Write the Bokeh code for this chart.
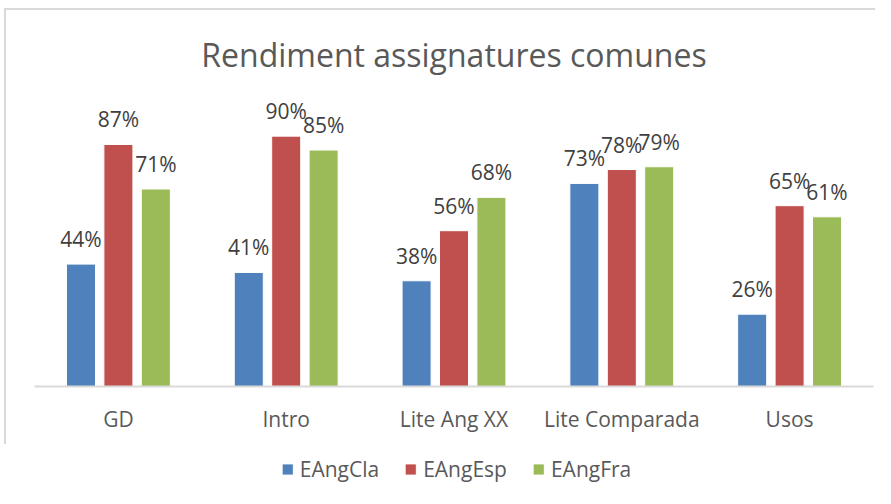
from bokeh.plotting import figure
from bokeh.layouts import column
from bokeh.models import ColumnDataSource, FactorRange, LabelSet, Legend, LegendItem, Range1d
from bokeh.transform import dodge
from bokeh.embed import file_html
from bokeh.resources import INLINE
from bokeh.core.properties import value

title = "Rendiment assignatures comunes"
categories = ["GD", "Intro", "Lite Ang XX", "Lite Comparada", "Usos"]
series = ["EAngCla", "EAngEsp", "EAngFra"]
eangcla = [0.44, 0.41, 0.38, 0.73, 0.26]
eangesp = [0.87, 0.90, 0.56, 0.78, 0.65]
eangfra = [0.71, 0.85, 0.68, 0.79, 0.61]
colors = ["#4F81BD", "#C0504D", "#9BBB59"]

FONT = "Open Sans"
TXT = "#595959"

data = {"cat": categories}
for name, vals in zip(series, [eangcla, eangesp, eangfra]):
    data[name] = vals
    data[name + "_lbl"] = [f"{round(v * 100)}%" for v in vals]
src = ColumnDataSource(data)

p = figure(x_range=FactorRange(*categories), y_range=Range1d(0, 1.1),
           frame_width=837, frame_height=304, output_backend="svg", toolbar_location=None,
           min_border_left=21, min_border_right=11, min_border_top=70,
           min_border_bottom=60)
p.styles = {"margin-left": "4px", "margin-top": "8px",
            "border-left": "2px solid #D9D9D9", "border-top": "2px solid #D9D9D9"}

bar_w = 0.173
step = 0.223
offsets = [-step, 0, step]
for name, col, off in zip(series, colors, offsets):
    p.vbar(x=dodge("cat", off, range=p.x_range), top=name, width=bar_w,
           source=src, fill_color=col, line_color="white", line_width=1)
    lbl = LabelSet(x=dodge("cat", off, range=p.x_range), y=name, text=name + "_lbl",
                   source=src, text_align="center", text_baseline="alphabetic",
                   y_offset=17, text_font=value(FONT), text_font_size="21px",
                   text_color="#404040")
    p.add_layout(lbl)

p.title.text = title
p.title.align = "center"
p.title.text_font = FONT
p.title.text_font_size = "32px"
p.title.text_font_style = "normal"
p.title.text_color = TXT
p.title.standoff = 10

p.yaxis.visible = False
p.xgrid.grid_line_color = None
p.ygrid.grid_line_color = None
p.outline_line_color = None
p.xaxis.axis_line_color = "#D9D9D9"
p.xaxis.axis_line_width = 2
p.xaxis.major_tick_line_color = None
p.xaxis.minor_tick_line_color = None
p.xaxis.major_tick_out = 0
p.xaxis.major_label_standoff = 18
p.xaxis.major_label_text_font = FONT
p.xaxis.major_label_text_font_size = "21px"
p.xaxis.major_label_text_color = TXT

# legend strip below the chart (its bars fall outside its visible y range)
p2 = figure(x_range=FactorRange(*categories), y_range=Range1d(2, 3),
            frame_width=843, frame_height=50, output_backend="svg",
            toolbar_location=None, x_axis_location=None, y_axis_location=None,
            min_border_left=28, min_border_right=0, min_border_top=0,
            min_border_bottom=0)
p2.xgrid.grid_line_color = None
p2.ygrid.grid_line_color = None
p2.outline_line_color = None
p2.styles = {"margin-left": "6px"}
items = []
for name, col, off in zip(series, colors, offsets):
    r = p2.vbar(x=dodge("cat", off, range=p2.x_range), top=name, width=bar_w,
                source=src, fill_color=col, line_color="white", line_width=1)
    items.append(LegendItem(label=name, renderers=[r]))
legend = Legend(items=items, orientation="horizontal", location="center",
                glyph_width=14, glyph_height=14, label_standoff=6, spacing=24,
                label_text_font=FONT, label_text_font_size="21px",
                label_text_color=TXT, border_line_color=None,
                background_fill_alpha=0, padding=0, margin=0)
p2.add_layout(legend)

layout = column(p, p2, spacing=0)
open("out.html", "w").write(file_html(layout, INLINE))
